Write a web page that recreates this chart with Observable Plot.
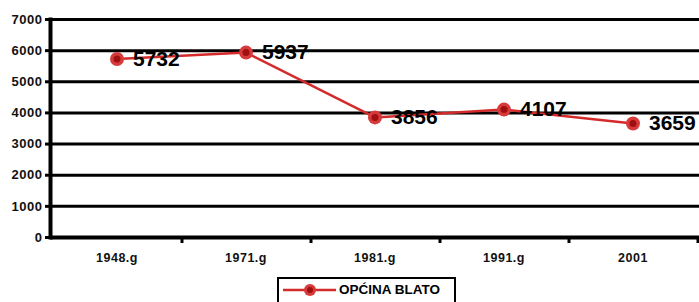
<!DOCTYPE html>
<html><head><meta charset="utf-8">
<script src="https://cdn.jsdelivr.net/npm/d3@7"></script>
<script src="https://cdn.jsdelivr.net/npm/@observablehq/plot@0.6"></script>
<style>
body{margin:0;background:#fff;font-family:"Liberation Sans",Arial,sans-serif;}
#wrap{position:relative;width:699px;height:302px;overflow:hidden;}
#legend{position:absolute;left:277px;top:277px;width:179px;height:30px;border:2px solid #000;box-sizing:border-box;background:#fff;}
#legend svg{position:absolute;left:0;top:0;}
#legend span{position:absolute;left:60px;top:3px;font:bold 13.5px "Liberation Sans",Arial,sans-serif;color:#000;}
.lbl text{letter-spacing:0.5px;}
</style></head><body>
<div id="wrap"><div id="chart"></div>
<div id="legend"><svg width="60" height="24"><line x1="4" x2="57" y1="11" y2="11" stroke="#d42a2a" stroke-width="2.5"/><circle cx="31" cy="11" r="6" fill="#d63a3a"/><circle cx="31" cy="11" r="3" fill="#a01010"/></svg><span>OPĆINA BLATO</span></div>
</div>
<script>
const years = ["1948.g","1971.g","1981.g","1991.g","2001"];
const population = [5732, 5937, 3856, 4107, 3659];
const yTicks = [0,1000,2000,3000,4000,5000,6000,7000];
const seriesName = "OPĆINA BLATO";

const data = years.map((y,i)=>({year:y, value:population[i]}));

const chart = Plot.plot({
  width: 699, height: 272,
  marginLeft: 50, marginRight: 0, marginTop: 19, marginBottom: 35,
  style: {fontFamily: '"Liberation Sans", Arial, sans-serif', background: "#fff"},
  x: {type: "band", domain: years, padding: 0},
  y: {domain: [0,7000]},
  marks: [
    Plot.gridY(yTicks.filter(d=>d>0), {stroke:"#000", strokeOpacity:1, strokeWidth:3}),
    Plot.axisY(yTicks, {tickSize:5, strokeWidth:3, tickPadding:3, fontSize:13, fontWeight:"bold", fill:"#111", label:null, tickFormat:d=>String(d), className:"lbl"}),
    Plot.axisX({tickSize:6, dx:65, strokeWidth:3, text:null, label:null}),
    Plot.axisX({tickSize:0, tickPadding:16, fontSize:12.5, fontWeight:"bold", fill:"#111", label:null, className:"lbl"}),
    Plot.ruleY([0], {stroke:"#000", strokeWidth:4}),
    Plot.frame({anchor:"left", stroke:"#000", strokeWidth:4}),
    Plot.line(data, {x:"year", y:"value", stroke:"#d42a2a", strokeWidth:2.5}),
    Plot.dot(data, {x:"year", y:"value", r:7, fill:"#d63a3a", stroke:"none"}),
    Plot.dot(data, {x:"year", y:"value", r:3.5, fill:"#a01010", stroke:"none"}),
    Plot.text(data, {x:"year", y:"value", text:d=>String(d.value), dx:16, dy:0, textAnchor:"start", fontSize:21, fontWeight:"bold", fill:"#000"})
  ]
});
document.getElementById("chart").appendChild(chart);
</script>
</body></html>
